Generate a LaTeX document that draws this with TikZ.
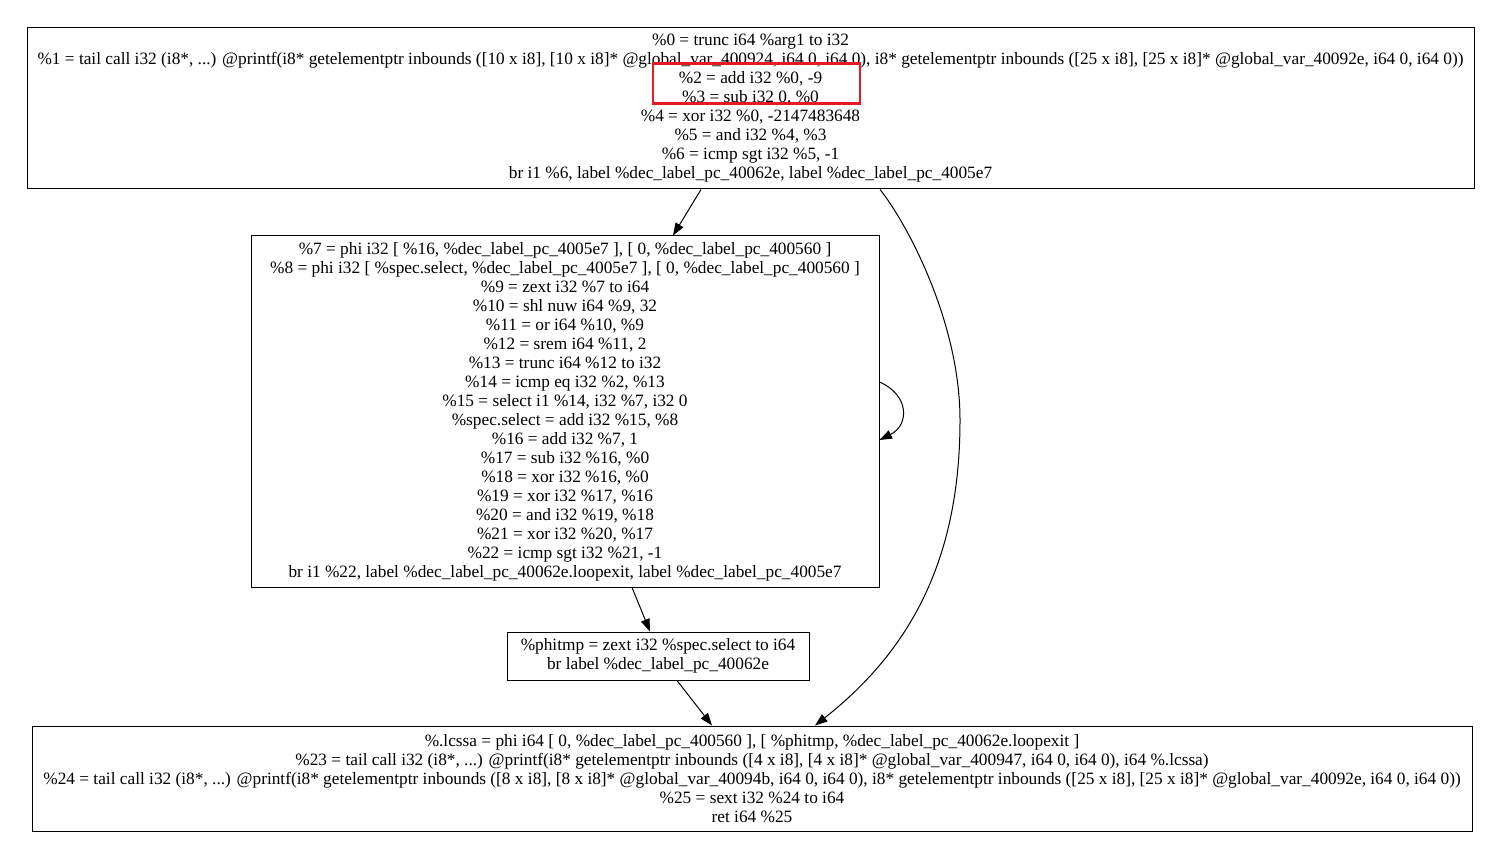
\documentclass[tikz,border=0pt]{standalone}
\usepackage{fontspec}
\setmainfont{Liberation Serif}
\usetikzlibrary{arrows.meta}
\definecolor{markred}{RGB}{228,26,36}
\begin{document}
\begin{tikzpicture}[x=1pt,y=-1pt,
  block/.style={draw, line width=1pt, rectangle, inner sep=0pt, align=center,
    font=\fontsize{17.3}{19}\selectfont},
  flow/.style={line width=1pt, -{Triangle[length=12.5pt,width=9pt]}}]
\useasboundingbox (0,0) rectangle (1503,866);

% basic blocks
\node[block, minimum width=1447pt, minimum height=161pt] (b1) at (750.5,108.5) {%
\%0 = trunc i64 \%arg1 to i32\\
\%1 = tail call i32 (i8*, ...) @printf(i8* getelementptr inbounds ([10 x i8], [10 x i8]* @global\_var\_400924, i64 0, i64 0), i8* getelementptr inbounds ([25 x i8], [25 x i8]* @global\_var\_40092e, i64 0, i64 0))\\
\%2 = add i32 \%0, -9\\
\%3 = sub i32 0, \%0\\
\%4 = xor i32 \%0, -2147483648\\
\%5 = and i32 \%4, \%3\\
\%6 = icmp sgt i32 \%5, -1\\
br i1 \%6, label \%dec\_label\_pc\_40062e, label \%dec\_label\_pc\_4005e7};

\node[block, minimum width=628pt, minimum height=351pt] (b2) at (565,411.5) {%
\%7 = phi i32 [ \%16, \%dec\_label\_pc\_4005e7 ], [ 0, \%dec\_label\_pc\_400560 ]\\
\%8 = phi i32 [ \%spec.select, \%dec\_label\_pc\_4005e7 ], [ 0, \%dec\_label\_pc\_400560 ]\\
\%9 = zext i32 \%7 to i64\\
\%10 = shl nuw i64 \%9, 32\\
\%11 = or i64 \%10, \%9\\
\%12 = srem i64 \%11, 2\\
\%13 = trunc i64 \%12 to i32\\
\%14 = icmp eq i32 \%2, \%13\\
\%15 = select i1 \%14, i32 \%7, i32 0\\
\%spec.select = add i32 \%15, \%8\\
\%16 = add i32 \%7, 1\\
\%17 = sub i32 \%16, \%0\\
\%18 = xor i32 \%16, \%0\\
\%19 = xor i32 \%17, \%16\\
\%20 = and i32 \%19, \%18\\
\%21 = xor i32 \%20, \%17\\
\%22 = icmp sgt i32 \%21, -1\\
br i1 \%22, label \%dec\_label\_pc\_40062e.loopexit, label \%dec\_label\_pc\_4005e7};

\node[block, minimum width=302pt, minimum height=48pt] (b3) at (658,656) {%
\%phitmp = zext i32 \%spec.select to i64\\
br label \%dec\_label\_pc\_40062e};

\node[block, minimum width=1440pt, minimum height=105pt] (b4) at (752,778.5) {%
\%.lcssa = phi i64 [ 0, \%dec\_label\_pc\_400560 ], [ \%phitmp, \%dec\_label\_pc\_40062e.loopexit ]\\
\%23 = tail call i32 (i8*, ...) @printf(i8* getelementptr inbounds ([4 x i8], [4 x i8]* @global\_var\_400947, i64 0, i64 0), i64 \%.lcssa)\\
\%24 = tail call i32 (i8*, ...) @printf(i8* getelementptr inbounds ([8 x i8], [8 x i8]* @global\_var\_40094b, i64 0, i64 0), i8* getelementptr inbounds ([25 x i8], [25 x i8]* @global\_var\_40092e, i64 0, i64 0))\\
\%25 = sext i32 \%24 to i64\\
ret i64 \%25};

% highlight around two instructions of the entry block
\node[draw=markred, line width=2.5pt, inner sep=0pt, minimum width=207pt,
  minimum height=40pt] (hl) at (756.5,83.5) {};

% control-flow edges
\draw[flow] ([xshift=-49.5pt]b1.south) -- ([xshift=108pt]b2.north);
\draw[flow] ([xshift=67pt]b2.south) -- ([xshift=-8pt]b3.north);
\draw[flow] ([xshift=19pt]b3.south) -- ([xshift=-40pt]b4.north);
\coordinate (bend) at (960,420);
\draw[flow] ([xshift=129.5pt]b1.south) .. controls +(25,31) and +(0,-100) .. (bend)
  .. controls +(0,140) and +(95,-75) .. ([xshift=63pt]b4.north);
\draw[flow] ([yshift=29.5pt]b2.east) .. controls +(30,13) and +(30,-15) .. ([yshift=-28.5pt]b2.east);
\end{tikzpicture}
\end{document}
